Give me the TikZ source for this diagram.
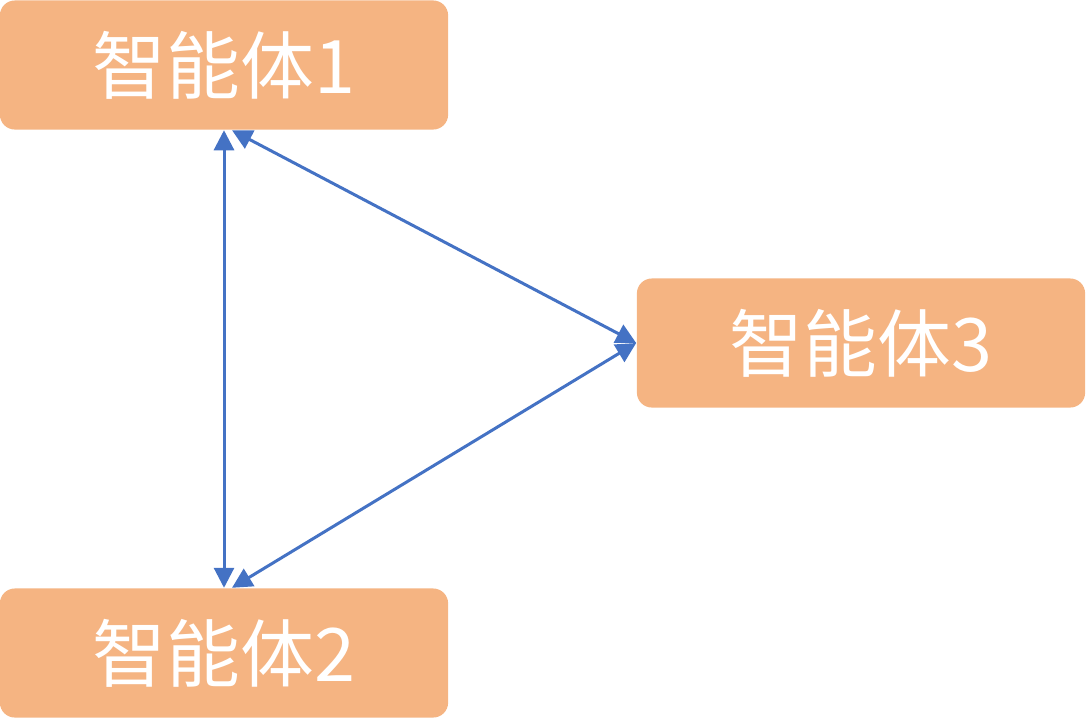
\documentclass[tikz,border=0pt]{standalone}
\usepackage{fontspec}
\newfontfamily\cjk{Noto Sans CJK SC}
\usetikzlibrary{arrows.meta}
\definecolor{boxc}{HTML}{F5B482}
\definecolor{linec}{HTML}{4472C4}
\begin{document}
\begin{tikzpicture}[x=0.01cm,y=-0.01cm,
  agent/.style={fill=boxc,rounded corners=0.15cm,minimum width=4.48cm,minimum height=1.29cm,inner sep=0,text=white,font=\cjk\fontsize{21}{25}\selectfont},
  link/.style={draw=linec,line width=0.03cm,{Triangle[length=0.2cm,width=0.2cm]}-{Triangle[length=0.2cm,width=0.2cm]}}]
\useasboundingbox (0,0) rectangle (1086,718);
\node[agent] (a1) at (224,65) {智能体1};
\node[agent] (a2) at (224,653) {智能体2};
\node[agent] (a3) at (861,343) {智能体3};
\draw[link] (a1.south) -- (a2.north);
\draw[link] ([xshift=0.08cm]a1.south) -- (a3.west);
\draw[link] (a3.west) -- ([xshift=0.08cm]a2.north);
\end{tikzpicture}
\end{document}
